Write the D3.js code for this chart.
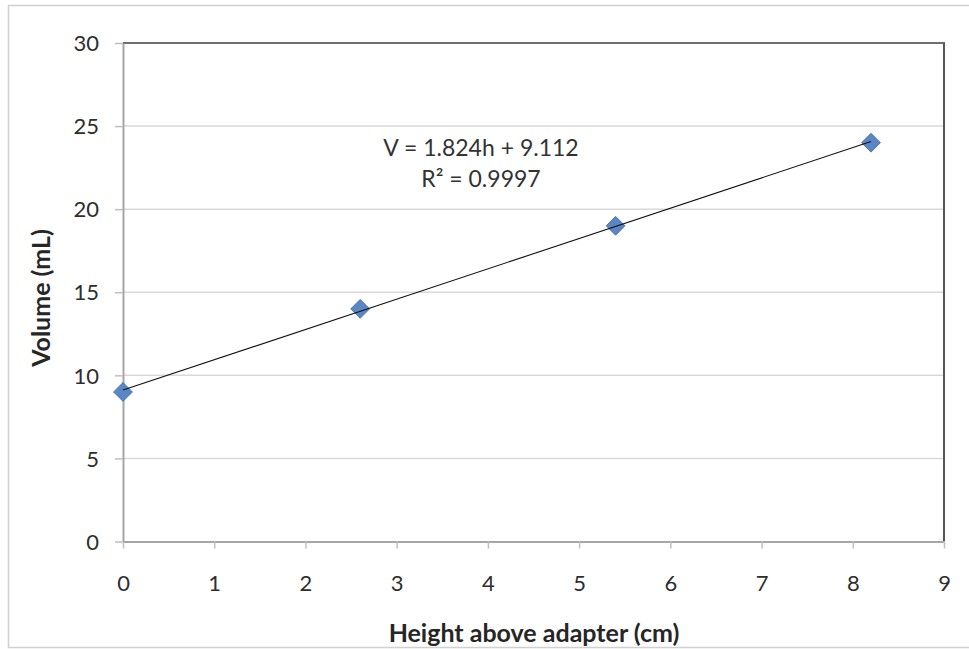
<!DOCTYPE html>
<html>
<head>
<meta charset="utf-8">
<script src="https://cdn.jsdelivr.net/npm/d3@7"></script>
<style>
  html, body { margin: 0; padding: 0; background: #fff; }
  svg { display: block; font-family: Lato, "Open Sans", sans-serif; }
</style>
</head>
<body>
<svg id="chart" width="969" height="649"></svg>
<script>
const heights = [0, 2.6, 5.4, 8.2];
const volumes = [9, 14, 19, 24];
const xTicks = [0, 1, 2, 3, 4, 5, 6, 7, 8, 9];
const yTicks = [0, 5, 10, 15, 20, 25, 30];
const slope = 1.824;
const intercept = 9.112;
const eqLines = ["V = 1.824h + 9.112", "R² = 0.9997"];
const xTitle = "Height above adapter (cm)";
const yTitle = "Volume (mL)";

const svg = d3.select("#chart");
const L = 123, R = 944, T = 43, B = 541.5;
const x = d3.scaleLinear().domain([0, 9]).range([L, R]);
const y = d3.scaleLinear().domain([0, 30]).range([B, T]);

// outer border
svg.append("rect").attr("x", 8.5).attr("y", 5.5).attr("width", 980).attr("height", 642)
  .attr("fill", "none").attr("stroke", "#d0d0d0").attr("stroke-width", 1.5);

// gridlines
svg.append("g").selectAll("line").data(yTicks.filter(d => d > 0 && d < 30)).join("line")
  .attr("x1", L).attr("x2", R).attr("y1", d => y(d)).attr("y2", d => y(d))
  .attr("stroke", "#d9d9d9").attr("stroke-width", 1.5);

// top & right borders
svg.append("line").attr("x1", L).attr("x2", R + 1).attr("y1", T).attr("y2", T)
  .attr("stroke", "#6e6e6e").attr("stroke-width", 2);
svg.append("line").attr("x1", R).attr("x2", R).attr("y1", T).attr("y2", B)
  .attr("stroke", "#555").attr("stroke-width", 2);

// axes
const xAxis = d3.axisBottom(x).tickValues(xTicks).tickSize(7).tickSizeOuter(0).tickPadding(27);
const yAxis = d3.axisLeft(y).tickValues(yTicks).tickSize(8).tickSizeOuter(0).tickPadding(16);
const gx = svg.append("g").attr("transform", `translate(0,${B})`).call(xAxis);
const gy = svg.append("g").attr("transform", `translate(${L},0)`).call(yAxis);
[gx, gy].forEach(g => {
  g.select(".domain").attr("stroke", "#a6a6a6").attr("stroke-width", 2);
  g.selectAll(".tick line").attr("stroke", "#bfbfbf").attr("stroke-width", 1.5);
  g.selectAll(".tick text").attr("fill", "#2e2e2e").attr("font-size", 22)
    .attr("font-family", "Lato, 'Open Sans', sans-serif");
});
gy.selectAll(".tick text").attr("dy", "0.35em");

// markers
const diamond = d3.symbol().type(d3.symbolDiamond2).size(225);
svg.append("g").selectAll("path").data(heights.map((h, i) => [h, volumes[i]])).join("path")
  .attr("d", diamond)
  .attr("transform", d => `translate(${x(d[0])},${y(d[1])})`)
  .attr("fill", "#5b86c5").attr("stroke", "#4a74b3").attr("stroke-width", 1);

// trendline (drawn over markers)
svg.append("line")
  .attr("x1", x(0)).attr("y1", y(intercept))
  .attr("x2", x(d3.max(heights))).attr("y2", y(intercept + slope * d3.max(heights)))
  .attr("stroke", "#111").attr("stroke-width", 1.1);

// equation
svg.append("g").selectAll("text").data(eqLines).join("text")
  .attr("x", 481).attr("y", (d, i) => 156 + i * 31)
  .attr("text-anchor", "middle").attr("font-size", 23).attr("fill", "#333")
  .text(d => d);

// titles
svg.append("text").attr("x", 534).attr("y", 642).attr("text-anchor", "middle")
  .attr("font-size", 25).attr("font-weight", "bold").attr("fill", "#262626").text(xTitle);
svg.append("text").attr("transform", "translate(50,298) rotate(-90)").attr("text-anchor", "middle")
  .attr("font-size", 25).attr("font-weight", "bold").attr("fill", "#262626").text(yTitle);
</script>
</body>
</html>
